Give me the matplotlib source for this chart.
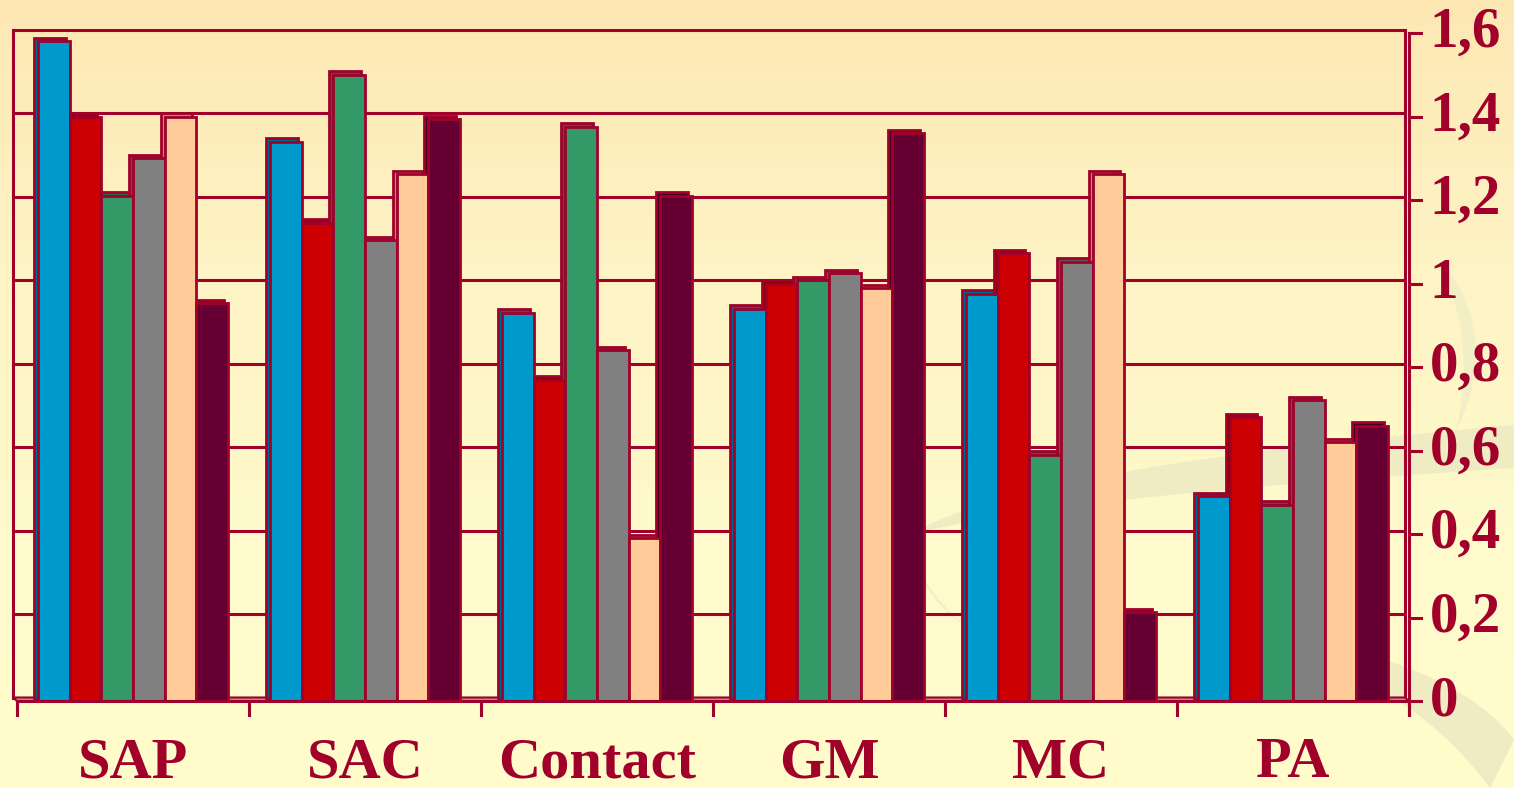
import numpy as np
import matplotlib
matplotlib.use("Agg")
import matplotlib.pyplot as plt
from matplotlib.transforms import ScaledTranslation, blended_transform_factory
from matplotlib.colors import LinearSegmentedColormap, to_rgb

categories = ["SAP", "SAC", "Contact", "GM", "MC", "PA"]
series_colors = ["#0099CC", "#CC0000", "#339966", "#808080", "#FFCC99", "#660033"]
s1 = [1.58, 1.34, 0.93, 0.94, 0.975, 0.49]
s2 = [1.40, 1.145, 0.77, 1.00, 1.073, 0.68]
s3 = [1.21, 1.50, 1.375, 1.008, 0.59, 0.47]
s4 = [1.30, 1.104, 0.84, 1.025, 1.052, 0.72]
s5 = [1.40, 1.262, 0.39, 0.989, 1.262, 0.62]
s6 = [0.953, 1.394, 1.21, 1.36, 0.213, 0.659]
series = [s1, s2, s3, s4, s5, s6]
yticks = [0, 0.2, 0.4, 0.6, 0.8, 1.0, 1.2, 1.4, 1.6]
ytick_labels = ["0", "0,2", "0,4", "0,6", "0,8", "1", "1,2", "1,4", "1,6"]

W, H, DPI = 1514, 788, 100
INK = "#A0002A"
FONT = ["Liberation Serif", "DejaVu Serif"]

fig = plt.figure(figsize=(W / DPI, H / DPI), dpi=DPI)

# background gradient and decorative swooshes
bg = fig.add_axes([0, 0, 1, 1])
bg.set_xlim(0, W)
bg.set_ylim(H, 0)
bg.axis("off")
grad = LinearSegmentedColormap.from_list("bg", ["#FDE8B4", "#FEF3C4", "#FFFACB", "#FFFCCC"])
bg.imshow(np.linspace(0, 1, 256).reshape(-1, 1), cmap=grad, aspect="auto",
          extent=[0, W, H, 0], zorder=0)


def bezier(p0, p1, p2, p3, n=60):
    t = np.linspace(0, 1, n)[:, None]
    p0, p1, p2, p3 = map(np.asarray, (p0, p1, p2, p3))
    return ((1 - t) ** 3) * p0 + 3 * ((1 - t) ** 2) * t * p1 + 3 * (1 - t) * t ** 2 * p2 + t ** 3 * p3


def band(upper, lower, color="#EFEBC2"):
    pts = np.vstack([bezier(*upper), bezier(*lower)[::-1]])
    bg.fill(pts[:, 0], pts[:, 1], color=color, lw=0, zorder=1)


band([(910, 535), (1000, 480), (1250, 448), (1514, 425)],
     [(910, 535), (1020, 505), (1250, 485), (1514, 468)])
band([(912, 555), (925, 610), (990, 650), (1090, 700)],
     [(912, 555), (940, 620), (1000, 660), (1090, 700)], color="#F2EFC6")
band([(1220, 628), (1360, 640), (1470, 680), (1514, 740)],
     [(1220, 628), (1360, 660), (1440, 720), (1490, 788)])
band([(1438, 262), (1478, 295), (1490, 370), (1455, 432)],
     [(1438, 262), (1466, 310), (1470, 380), (1455, 432)], color="#F2EFC6")

# main plotting area (front plane)
x0, x1, ytop, ybot = 17, 1409, 33, 701
ax = fig.add_axes([x0 / W, (H - ybot) / H, (x1 - x0) / W, (ybot - ytop) / H])
ax.set_xlim(0, len(categories))
ax.set_ylim(0, 1.6)
ax.patch.set_alpha(0)
for sp in ax.spines.values():
    sp.set_visible(False)
ax.set_xticks([])
ax.set_yticks([])

DX, DY = -4.0, 3.5
back = ax.transData + ScaledTranslation(DX / DPI, DY / DPI, fig.dpi_scale_trans)
back_axes = ax.transAxes + ScaledTranslation(DX / DPI, DY / DPI, fig.dpi_scale_trans)

# back walls with gridlines
for v in yticks:
    ax.plot([0, 1], [v / 1.6, v / 1.6], color=INK, lw=2.2, transform=back_axes,
            clip_on=False, zorder=2, solid_capstyle="butt")
ax.plot([0, 0], [0, 1], color=INK, lw=2.2, transform=back_axes, clip_on=False, zorder=2)
ax.plot([1, 1], [0, 1], color=INK, lw=2.2, transform=back_axes, clip_on=False, zorder=2)

# floor slab
fx = ax.transAxes.transform([(0, 0), (1, 0)])
bx = back_axes.transform([(0, 0), (1, 0)])
fpts = ax.transAxes.inverted().transform([fx[0], fx[1], bx[1], bx[0]])
ax.add_patch(plt.Polygon(fpts, closed=True, transform=ax.transAxes, facecolor="#B89898",
                         edgecolor=INK, lw=1.5, zorder=2, clip_on=False))


def shade(c, f=0.7):
    r, g, b = to_rgb(c)
    return (r * f, g * f, b * f)


# bars: depth faces first, then front faces
n = len(series)
w = 0.1366
centers = np.arange(len(categories)) + 0.5
for j, (vals, col) in enumerate(zip(series, series_colors)):
    xs = centers + (j - (n - 1) / 2) * w
    ax.bar(xs, vals, width=w, color=shade(col), edgecolor=INK, linewidth=2,
           transform=back, zorder=3, clip_on=False)
for j, (vals, col) in enumerate(zip(series, series_colors)):
    xs = centers + (j - (n - 1) / 2) * w
    ax.bar(xs, vals, width=w, color=col, edgecolor=INK, linewidth=2,
           zorder=4, clip_on=False)

# front axis lines
ax.plot([1, 1], [-0.018, 1], color=INK, lw=2.2, transform=ax.transAxes, clip_on=False, zorder=5)
ax.plot([0, 1], [0, 0], color=INK, lw=2.2, transform=ax.transAxes, clip_on=False, zorder=5)

# value axis ticks and labels on the right
for v, lab in zip(yticks, ytick_labels):
    ax.plot([1, 1.0086], [v / 1.6, v / 1.6], color=INK, lw=2.2, transform=ax.transAxes,
            clip_on=False, zorder=5)
    ax.text(1.0147, v / 1.6, lab, transform=ax.transAxes, ha="left", va="center",
            fontsize=41, fontweight="bold", color=INK, family=FONT)

# category ticks and labels
tr = blended_transform_factory(ax.transData, ax.transAxes)
label_y = -(777 - ybot) / (ybot - ytop)
for k in range(len(categories) + 1):
    ax.plot([k, k], [-0.003, -0.021], color=INK, lw=2.2, transform=tr, clip_on=False, zorder=5)
for k, name in enumerate(categories):
    ax.text(k + 0.5, label_y, name, transform=tr, ha="center", va="baseline",
            fontsize=42, fontweight="bold", color=INK, family=FONT)

fig.savefig("out.png", dpi=DPI)
